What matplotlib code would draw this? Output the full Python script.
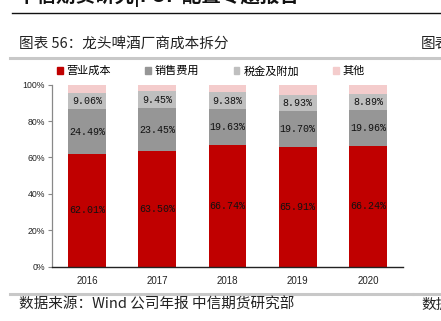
import numpy as np
import matplotlib
matplotlib.use("Agg")
import matplotlib.pyplot as plt
import matplotlib.patches as mpatches
from matplotlib.lines import Line2D

plt.rcParams["font.family"] = ["Noto Sans CJK SC", "DejaVu Sans"]

# data
years = ["2016", "2017", "2018", "2019", "2020"]
op_cost = [62.01, 63.50, 66.74, 65.91, 66.24]      # 营业成本
sales_exp = [24.49, 23.45, 19.63, 19.70, 19.96]    # 销售费用
tax = [9.06, 9.45, 9.38, 8.93, 8.89]               # 税金及附加
series_names = ["营业成本", "销售费用", "税金及附加", "其他"]
colors = ["#c00000", "#969696", "#bfbfbf", "#f4cccc"]
other = [100 - a - b - c for a, b, c in zip(op_cost, sales_exp, tax)]

W, H = 441, 321
fig = plt.figure(figsize=(W / 100, H / 100), dpi=100)
fig.patch.set_facecolor("white")


def fx(px):
    return px / W


def fy(py):
    return 1 - py / H


ax = fig.add_axes([fx(52), fy(266.5), fx(403 - 52), (266.5 - 84.7) / H])

x = np.arange(len(years))
bw = 0.54
bottom = np.zeros(len(years))
for vals, c in zip([op_cost, sales_exp, tax, other], colors):
    ax.bar(x, vals, bw, bottom=bottom, color=c, edgecolor="none")
    bottom += np.array(vals)

# segment labels (not for 其他)
bottom = np.zeros(len(years))
for vals in [op_cost, sales_exp, tax]:
    for i, v in enumerate(vals):
        ax.text(x[i], bottom[i] + v / 2, f"{v:.2f}%", ha="center", va="center",
                fontsize=7.2, family="Liberation Mono", color="#111111")
    bottom += np.array(vals)

ax.set_xlim(-0.5, 4.5)
ax.set_ylim(0, 100)
ax.set_yticks([0, 20, 40, 60, 80, 100])
ax.set_yticklabels([f"{v}%" for v in range(0, 101, 20)], fontsize=6.3,
                   family="Liberation Sans", color="#222222")
ax.set_xticks(x)
ax.set_xticklabels(years, fontsize=7, family="Liberation Sans", color="#222222")
ax.tick_params(axis="x", length=0, pad=7)
ax.tick_params(axis="y", length=3, width=0.8, color="#888888", pad=2)
for s in ["top", "right"]:
    ax.spines[s].set_visible(False)
ax.spines["left"].set_color("#888888")
ax.spines["left"].set_linewidth(0.9)
ax.spines["bottom"].set_color("#222222")
ax.spines["bottom"].set_linewidth(1.0)

handles = [mpatches.Patch(color=c, label=n) for c, n in zip(colors, series_names)]
fig.legend(handles=handles, loc="center left", bbox_to_anchor=(fx(57), fy(71)),
           ncol=4, frameon=False, fontsize=8, handlelength=0.5, handleheight=0.5,
           handletextpad=0.35, columnspacing=3.1, borderpad=0, borderaxespad=0)

# page decorations
fig.text(fx(17), fy(-4), "中信期货研究|FOF 配置专题报告", fontsize=14, fontweight="bold",
         va="center", ha="left", color="#111111")
fig.add_artist(Line2D([fx(12), 1], [fy(12.7), fy(12.7)], color="#111111", lw=1.0))
fig.text(fx(19), fy(44), "图表 56：龙头啤酒厂商成本拆分", fontsize=10.5, va="center",
         ha="left", color="#222222")
fig.text(fx(421), fy(44), "图表", fontsize=10.5, va="center", ha="left", color="#222222")
for y in [57.5, 294.3]:
    fig.add_artist(Line2D([fx(10), fx(412)], [fy(y), fy(y)], color="#c8c8c8", lw=2.2))
    fig.add_artist(Line2D([fx(414), 1], [fy(y), fy(y)], color="#c8c8c8", lw=2.2))
fig.text(fx(19), fy(305), "数据来源：Wind 公司年报 中信期货研究部", fontsize=10.5,
         va="center", ha="left", color="#222222")
fig.text(fx(421), fy(305), "数据", fontsize=10.5, va="center", ha="left", color="#222222")

fig.savefig("out.png", dpi=100, facecolor="white")
